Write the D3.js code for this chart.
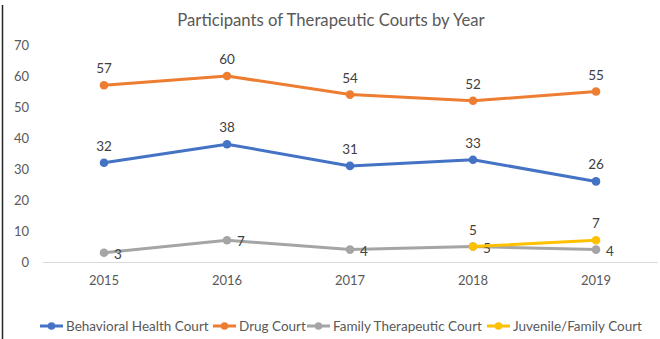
<!DOCTYPE html>
<html>
<head>
<meta charset="utf-8">
<script src="https://cdn.jsdelivr.net/npm/d3@7"></script>
<style>
  html, body { margin: 0; padding: 0; background: #fff; }
  svg { display: block; font-family: Lato, "Open Sans", sans-serif; }
</style>
</head>
<body>
<svg id="chart" width="660" height="339"></svg>
<script>
const years = ["2015", "2016", "2017", "2018", "2019"];
const behavioralHealth = [32, 38, 31, 33, 26];
const drugCourt = [57, 60, 54, 52, 55];
const familyTherapeutic = [3, 7, 4, 5, 4];
const juvenileFamily = [null, null, null, 5, 7];
const yTicks = [0, 10, 20, 30, 40, 50, 60, 70];

const series = [
  { name: "Behavioral Health Court", values: behavioralHealth, color: "#4472C4", label: "above" },
  { name: "Drug Court", values: drugCourt, color: "#ED7D31", label: "above" },
  { name: "Family Therapeutic Court", values: familyTherapeutic, color: "#A5A5A5", label: "right" },
  { name: "Juvenile/Family Court", values: juvenileFamily, color: "#FFC000", label: "above" }
];

const svg = d3.select("#chart");
const W = 660, H = 339;

// frame edge on the left
svg.append("line").attr("x1", 2.5).attr("x2", 2.5).attr("y1", 5).attr("y2", H)
  .attr("stroke", "#262626").attr("stroke-width", 1.5);

const x = d3.scaleBand().domain(years).range([42.5, 657.5]);
const y = d3.scaleLinear().domain([0, 70]).range([262, 45]);

// title
svg.append("text").attr("x", 331).attr("y", 26).attr("text-anchor", "middle")
  .attr("fill", "#595959").attr("font-size", 16.7).text("Participants of Therapeutic Courts by Year");

// y axis labels (no axis line)
const yAxis = svg.append("g").attr("transform", "translate(29,0)")
  .call(d3.axisLeft(y).tickValues(yTicks).tickSize(0).tickPadding(0));
yAxis.select(".domain").remove();
yAxis.selectAll("text").attr("fill", "#595959").attr("font-size", 13)
  .attr("font-family", "Lato, 'Open Sans', sans-serif");

// x axis
const xAxis = svg.append("g").attr("transform", "translate(0,262)")
  .call(d3.axisBottom(x).tickSize(0).tickPadding(14));
xAxis.select(".domain").attr("stroke", "#D9D9D9").attr("stroke-width", 1);
xAxis.selectAll("text").attr("fill", "#595959").attr("font-size", 13)
  .attr("font-family", "Lato, 'Open Sans', sans-serif");

const cx = d => x(d) + x.bandwidth() / 2;

series.forEach(s => {
  const pts = years.map((yr, i) => ({ yr, v: s.values[i] })).filter(p => p.v != null);
  const line = d3.line().x(p => cx(p.yr)).y(p => y(p.v));
  svg.append("path").datum(pts).attr("d", line).attr("fill", "none")
    .attr("stroke", s.color).attr("stroke-width", 3).attr("stroke-linejoin", "round").attr("stroke-linecap", "round");
  svg.selectAll(null).data(pts).enter().append("circle")
    .attr("cx", p => cx(p.yr)).attr("cy", p => y(p.v)).attr("r", 4.3).attr("fill", s.color);
  svg.selectAll(null).data(pts).enter().append("text")
    .attr("x", p => s.label === "right" ? cx(p.yr) + 10 : cx(p.yr))
    .attr("y", p => s.label === "right" ? y(p.v) + 6 : y(p.v) - 12)
    .attr("text-anchor", s.label === "right" ? "start" : "middle")
    .attr("fill", "#404040").attr("font-size", 13.5)
    .text(p => p.v);
});

// legend
const legendX = [40, 213, 307, 487];
const legend = svg.append("g");
series.forEach((s, i) => {
  const g = legend.append("g").attr("transform", `translate(${legendX[i]},326)`);
  g.append("line").attr("x1", 0).attr("x2", 23).attr("y1", 0).attr("y2", 0)
    .attr("stroke", s.color).attr("stroke-width", 3);
  g.append("circle").attr("cx", 11.5).attr("cy", 0).attr("r", 3.8).attr("fill", s.color);
  g.append("text").attr("x", 26).attr("y", 4.5).attr("fill", "#595959").attr("font-size", 13.5)
    .text(s.name);
});
</script>
</body>
</html>
